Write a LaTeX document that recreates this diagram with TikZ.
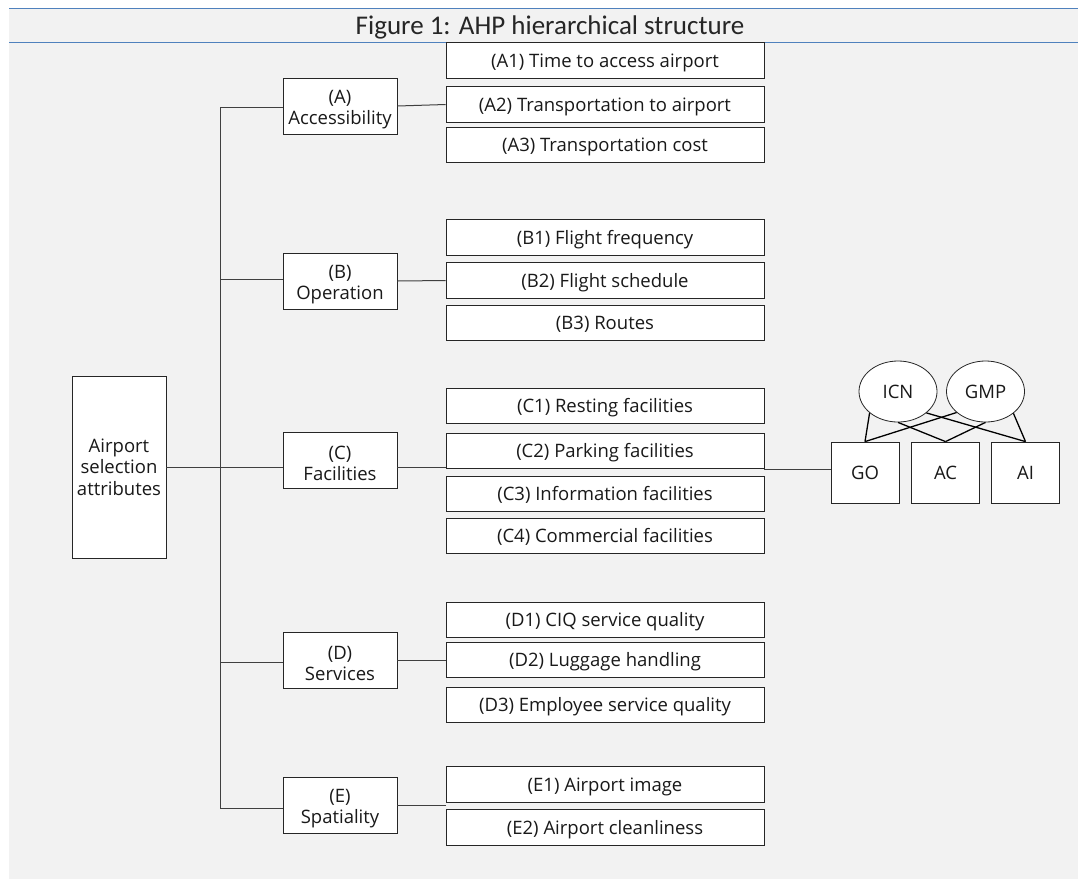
\documentclass[tikz,border=0pt]{standalone}
\usepackage{fontspec}
\setmainfont{Open Sans}
\newfontfamily\titlefont{Carlito}
\usetikzlibrary{shapes.geometric}
\definecolor{bgray}{HTML}{F2F2F2}
\definecolor{bblue}{HTML}{4F81BD}
\newcommand\myup{\rule{0pt}{20pt}}
\begin{document}
\begin{tikzpicture}[x=1pt,y=-1pt,
  every node/.style={font=\fontsize{18.5}{20.5}\selectfont, text=black!90},
  box/.style={draw=black!85, fill=white, line width=0.8pt, inner sep=0pt, align=center},
  rootbox/.style={box, minimum width=94, minimum height=182, font=\fontsize{18.5}{21.5}\selectfont},
  midbox/.style={box, minimum width=114, minimum height=56},
  subbox/.style={box, minimum width=318, minimum height=35.5, text depth=0.05em, text height=1.35em},
  altbox/.style={box, minimum width=68, minimum height=61},
  apt/.style={ellipse, draw=black!85, fill=white, line width=0.8pt, inner sep=0pt, minimum width=78, minimum height=61},
  link/.style={draw=black!75, line width=1pt},
  blink/.style={draw=black, line width=1.3pt}]
\useasboundingbox (0,0) rectangle (1078,879);
\fill[white] (0,0) rectangle (1078,879);
\fill[bgray] (9,8) rectangle (1078,879);
\draw[bblue, line width=1pt] (9,8) -- (1078,8);
\draw[bblue, line width=1pt] (9,42) -- (1078,42);
\node[font=\titlefont\fontsize{27}{30}\selectfont, text=black!85] (title) at (550,27) {Figure 1: AHP hierarchical structure};

% vertical trunk
\coordinate (vtop) at (220,107);
\coordinate (vB) at (220,279);
\coordinate (vD) at (220,662);
\coordinate (vbot) at (220,808);

\node[rootbox] (root) at (119,467) {Airport\\selection\\attributes};

\node[midbox] (A) at (340,106) {\myup(A)\\Accessibility};
\node[midbox] (B) at (340,281) {\myup(B)\\Operation};
\node[midbox] (C) at (340,460) {\myup(C)\\Facilities};
\node[midbox] (D) at (340,660) {\myup(D)\\Services};
\node[midbox] (E) at (340,805) {\myup(E)\\Spatiality};

\node[subbox] (A1) at (605,60.5) {(A1) Time to access airport};
\node[subbox] (A2) at (605,104.5) {(A2) Transportation to airport};
\node[subbox] (A3) at (605,145) {(A3) Transportation cost};
\node[subbox] (B1) at (605,237.5) {(B1) Flight frequency};
\node[subbox] (B2) at (605,280.5) {(B2) Flight schedule};
\node[subbox] (B3) at (605,323) {(B3) Routes};
\node[subbox] (C1) at (605,406) {(C1) Resting facilities};
\node[subbox] (C2) at (605,451) {(C2) Parking facilities};
\node[subbox] (C3) at (605,494) {(C3) Information facilities};
\node[subbox] (C4) at (605,536) {(C4) Commercial facilities};
\node[subbox] (D1) at (605,620) {(D1) CIQ service quality};
\node[subbox] (D2) at (605,660) {(D2) Luggage handling};
\node[subbox] (D3) at (605,705) {(D3) Employee service quality};
\node[subbox] (E1) at (605,784.5) {(E1) Airport image};
\node[subbox] (E2) at (605,827.5) {(E2) Airport cleanliness};

\node[altbox] (GO) at (865,472.5) {GO};
\node[altbox] (AC) at (945.5,472.5) {AC};
\node[altbox] (AI) at (1025.5,472.5) {AI};

% tree connectors
\draw[link] (vtop) -- (vbot);
\draw[link] (vtop) -- (vtop -| A.west);
\draw[link] (vB) -- (vB -| B.west);
\draw[link] (root.east) -- (root.east -| C.west);
\draw[link] (vD) -- (vD -| D.west);
\draw[link] (vbot) -- (vbot -| E.west);
\draw[link] (A.east) -- (A2.west);
\draw[link] (B.east) -- (B2.west);
\draw[link] (C.east |- root.east) -- (C2.west |- root.east);
\draw[link] (D.east) -- (D2.west);
\draw[link] (E.east) -- (E.east -| E1.west);
\draw[link] (C2.south east) -- (C2.south east -| GO.west);

% airports
\node[apt] (ICN) at (898,391.5) {ICN};
\node[apt] (GMP) at (985.5,391.5) {GMP};
\draw[blink] (ICN.217) -- (GO.north);
\draw[blink] (ICN.south) -- (AC.north);
\draw[blink] (ICN.323) -- (AI.north);
\draw[blink] (GMP.216) -- (GO.north);
\draw[blink] (GMP.south) -- (AC.north);
\draw[blink] (GMP.322) -- (AI.north);
\end{tikzpicture}
\end{document}
